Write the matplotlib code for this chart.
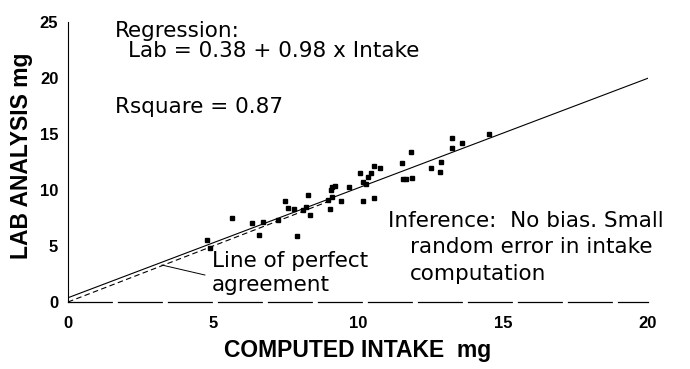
import matplotlib
matplotlib.use("Agg")
import matplotlib.pyplot as plt
import numpy as np

# computed intake (mg) vs lab analysis (mg)
intake = [4.81, 4.88, 5.64, 6.34, 6.60, 6.73, 7.23, 7.48, 7.57, 7.79, 7.91,
          8.09, 8.21, 8.29, 8.33, 9.09, 9.21, 9.07, 9.09, 8.97, 9.40, 9.03,
          9.70, 10.06, 10.17, 10.29, 10.34, 10.18, 10.54, 10.45, 10.55, 10.75,
          11.51, 11.83, 11.55, 11.66, 11.85, 12.53, 12.85, 12.83, 13.25, 13.25,
          13.58, 14.53]
lab = [5.54, 4.79, 7.50, 7.08, 5.98, 7.17, 7.35, 9.06, 8.37, 8.28, 5.89,
       8.17, 8.44, 9.55, 7.77, 10.27, 10.36, 9.96, 9.38, 9.11, 9.06, 8.28,
       10.24, 11.52, 10.67, 10.54, 11.16, 9.06, 9.26, 11.56, 12.14, 11.94,
       12.44, 13.35, 10.94, 10.94, 11.07, 11.92, 12.53, 11.63, 14.62, 13.78,
       14.17, 14.97]

intercept, slope = 0.38, 0.98
fit_x = [0, 20]
perfect_x = [0, 9]
xticks = [0, 5, 10, 15, 20]
yticks = [0, 5, 10, 15, 20, 25]

fig = plt.figure(figsize=(6.9, 3.69), dpi=100)
ax = fig.add_axes([68 / 690, 1 - 302 / 369, 580 / 690, 280 / 369])

fx = np.array(fit_x)
ax.plot(fx, intercept + slope * fx, color="black", lw=0.8)
ax.plot(perfect_x, perfect_x, color="black", lw=0.8, ls=(0, (5, 3)))
ax.plot(intake, lab, ls="none", marker="s", ms=2.9, color="black")

ax.set_xlim(0, 20)
ax.set_ylim(0, 25)
ax.set_xticks(xticks)
ax.set_yticks(yticks)
ax.tick_params(length=0, labelsize=12)
ax.tick_params(axis="x", pad=10)
ax.tick_params(axis="y", pad=7)
for lbl in ax.get_xticklabels() + ax.get_yticklabels():
    lbl.set_fontweight("bold")
    lbl.set_family("Liberation Sans")

ax.spines["top"].set_visible(False)
ax.spines["right"].set_visible(False)
ax.spines["left"].set_linewidth(0.8)
ax.spines["bottom"].set_linewidth(0.9)
ax.spines["bottom"].set_linestyle((0, (35, 5)))

lab_font = dict(family="Liberation Sans", fontweight="bold", fontsize=16.5)
fig.text(22 / 690, 1 - 156 / 369, "LAB ANALYSIS mg", rotation=90,
         ha="center", va="center", **lab_font)
fig.text(358 / 690, 1 - 351 / 369, "COMPUTED INTAKE  mg",
         ha="center", va="center", **lab_font)

note = dict(family="DejaVu Sans", fontsize=15.5, va="baseline", ha="left")
ax.text(1.62, 23.66, "Regression:", **note)
ax.text(2.07, 21.88, "Lab = 0.38 + 0.98 x Intake", **note)
ax.text(1.62, 16.88, "Rsquare = 0.87", **note)
ax.text(4.97, 3.13, "Line of perfect", **note)
ax.text(4.97, 0.98, "agreement", **note)
ax.text(11.03, 6.70, "Inference:  No bias. Small", **note)
ax.text(11.79, 4.38, "random error in intake", **note)
ax.text(11.79, 1.96, "computation", **note)
ax.plot([3.24, 4.72], [3.30, 2.41], color="black", lw=0.7)

fig.savefig("out.png", dpi=100)
